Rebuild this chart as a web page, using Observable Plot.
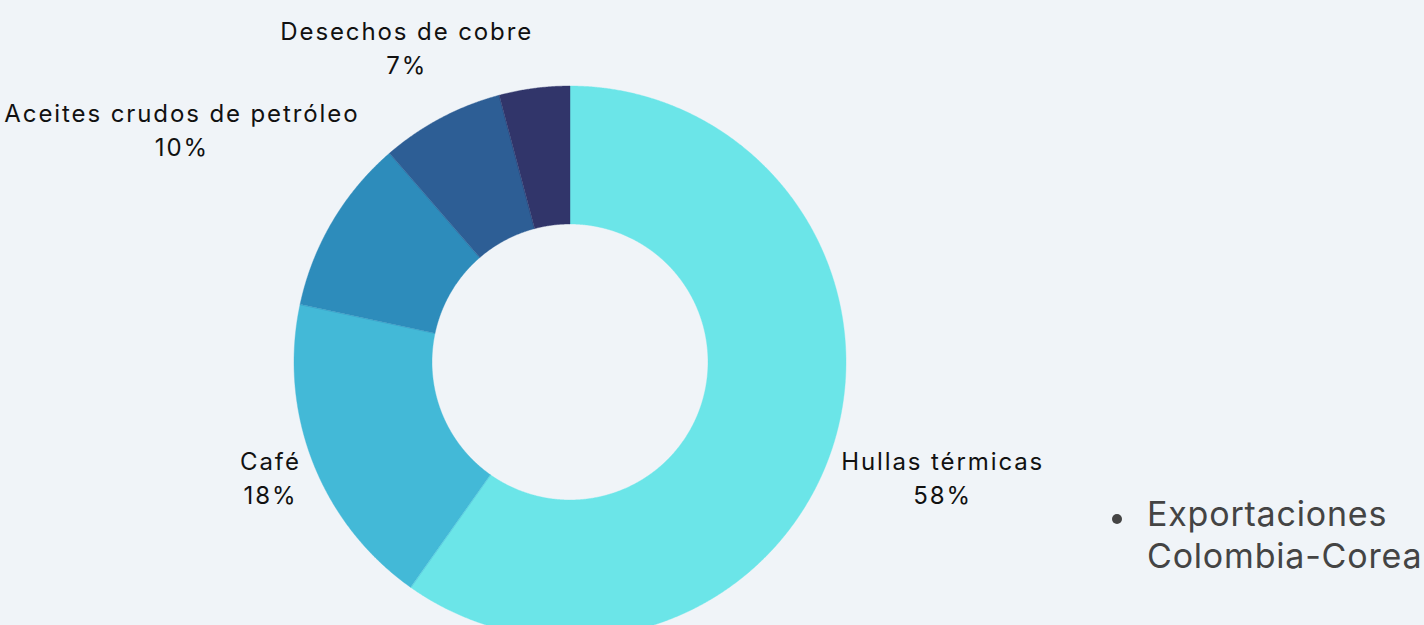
<!DOCTYPE html>
<html><head><meta charset="utf-8">
<script src="https://cdn.jsdelivr.net/npm/d3@7"></script>
<script src="https://cdn.jsdelivr.net/npm/@observablehq/plot@0.6"></script>
<style>
html,body{margin:0;padding:0;background:#F0F4F8;overflow:hidden;}
#wrap{position:relative;width:1424px;height:625px;}
#chart svg text{letter-spacing:1.9px;}
#legend{position:absolute;left:1111px;top:493px;font-family:Inter,"Open Sans",sans-serif;font-size:34px;line-height:42px;color:#444;letter-spacing:0.8px;}
#legend .dot{position:absolute;left:1px;top:21px;width:10px;height:10px;border-radius:50%;background:#444;}
#legend .txt{position:absolute;left:36px;top:0;white-space:nowrap;}
</style></head><body><div id="wrap"><div id="chart"></div><div id="legend"></div></div>
<script>
// ---- data ----
const categories = ["Hullas térmicas", "Café", "Aceites crudos de petróleo", "Desechos de cobre", "Otros"];
const values = [58, 18, 10, 7, 4];
const labelled = [true, true, true, true, false];
const seriesNames = ["Exportaciones", "Colombia-Corea"];
const palette = ["#6BE5E8", "#43B9D7", "#2D8CBB", "#2D5E95", "#31356A"];

// ---- layout ----
const W = 1424, H = 625;
const cx = 570, cy = 362, R = 276, innerRatio = 0.5;
const labelSize = 24, letterSp = 1.9;
const labelFont = labelSize + "px Inter";
const lineH = 34, gap = 6.5, minTop = 16;

const total = d3.sum(values);
let acc = 0;
const slices = categories.map((c, i) => {
  const a0 = acc / total * 2 * Math.PI;
  acc += values[i];
  const a1 = acc / total * 2 * Math.PI;
  return {cat: c, value: values[i], a0, a1, i};
});

const pts = [];
for (const s of slices) {
  const n = Math.max(2, Math.ceil((s.a1 - s.a0) / (Math.PI / 720)) + 1);
  for (let k = 0; k < n; k++) {
    const a = s.a0 + (s.a1 - s.a0) * k / (n - 1);
    pts.push({cat: s.cat, x1: innerRatio * Math.sin(a), y1: -innerRatio * Math.cos(a), x2: Math.sin(a), y2: -Math.cos(a)});
  }
}

const ctx = document.createElement("canvas").getContext("2d");
ctx.font = labelFont;
const labels = slices.filter(s => labelled[s.i]).map(s => {
  const text = s.cat + "\n" + s.value + "%";
  const w = Math.max(...text.split("\n").map(t => ctx.measureText(t).width + t.length * letterSp));
  const h = 2 * lineH;
  const am = (s.a0 + s.a1) / 2;
  const vx = Math.sin(am), vy = -Math.cos(am);
  let d = R + gap + Math.abs(vx) * w / 2 + Math.abs(vy) * h / 2;
  let px = cx + vx * d, py = cy + vy * d;
  if (py - h / 2 < minTop && vy < 0) {
    d = (cy - (minTop + h / 2)) / -vy;
    px = cx + vx * d; py = cy + vy * d;
  }
  return {text, x: (px - cx) / R, y: (py - cy) / R};
});

const chart = Plot.plot({
  width: W, height: H,
  margin: 0,
  style: {background: "transparent", overflow: "visible"},
  x: {domain: [-cx / R, (W - cx) / R], range: [0, W], axis: null},
  y: {domain: [-cy / R, (H - cy) / R], range: [0, H], axis: null},
  color: {domain: categories, range: palette},
  marks: [
    Plot.area(pts, {x1: "x1", y1: "y1", x2: "x2", y2: "y2", z: "cat", fill: "cat", stroke: "cat", strokeWidth: 0.4, curve: "linear"}),
    Plot.text(labels, {x: "x", y: "y", text: "text", fontSize: labelSize, lineHeight: lineH / labelSize, lineAnchor: "middle", textAnchor: "middle", fill: "#111", fontFamily: "Inter", dx: letterSp / 2, dy: -4})
  ]
});
document.getElementById("chart").appendChild(chart);

const lg = document.getElementById("legend");
lg.innerHTML = '<div class="dot"></div><div class="txt">' + seriesNames.join("<br>") + '</div>';
</script>
</body></html>
